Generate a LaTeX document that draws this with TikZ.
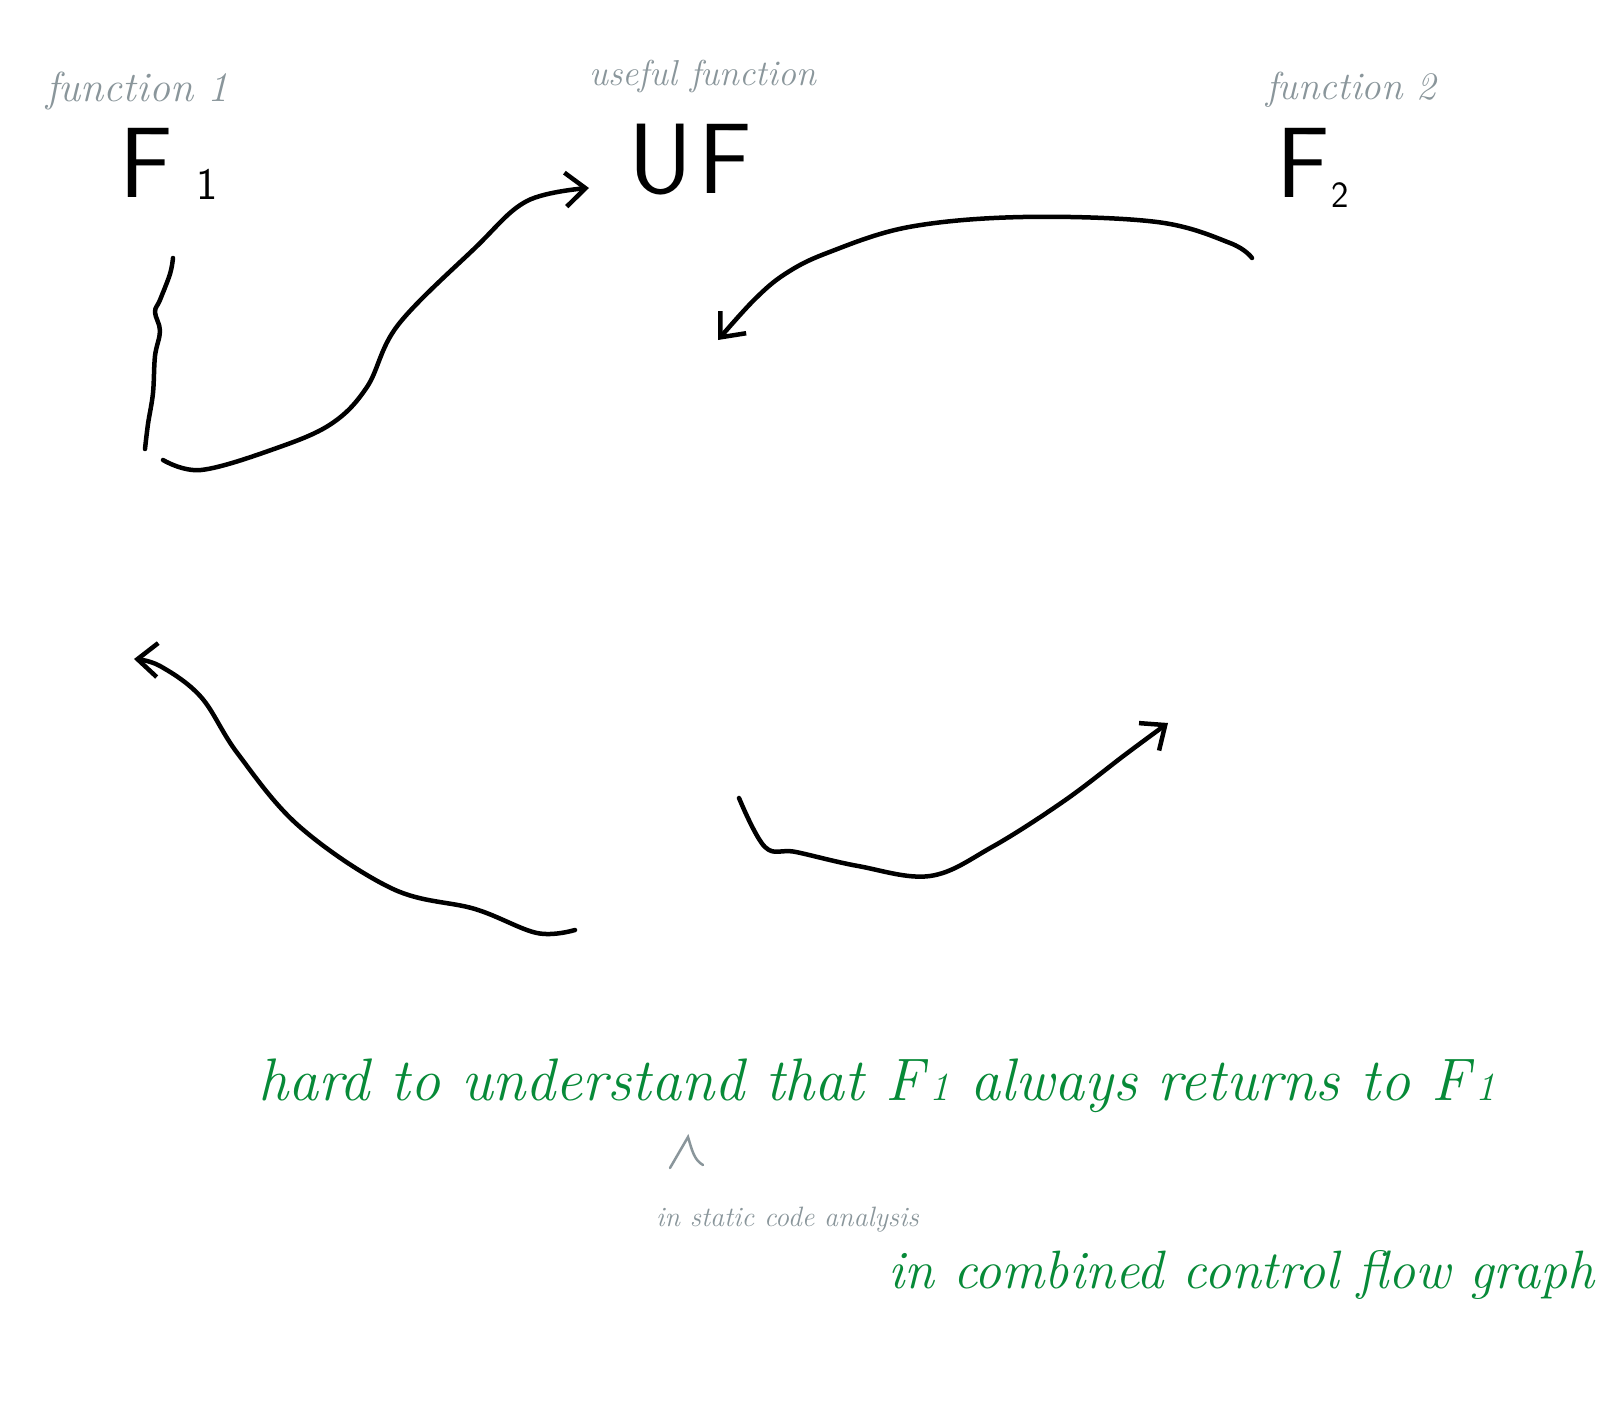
\documentclass[tikz,border=0pt]{standalone}
\usetikzlibrary{arrows.meta}
\definecolor{pen}{HTML}{000000}
\definecolor{note}{HTML}{8A969B}
\definecolor{ink}{HTML}{078A38}
\newcommand{\smallone}{\hspace{6pt}{\fontsize{40}{40}\selectfont 1}}
\tikzset{
  stroke/.style={draw=pen, line width=4.5pt, line cap=round, line join=round},
  barb/.style={-{Straight Barb[length=20pt,width=34pt,line width=4.5pt]}},
  notelabel/.style={text=note, font=\fontsize{42}{44}\selectfont\itshape, inner sep=0pt, anchor=base west},
  fname/.style={text=pen, font=\fontsize{100}{100}\selectfont\sffamily, inner sep=0pt, anchor=base west},
  greentext/.style={text=ink, font=\fontsize{60}{64}\selectfont\itshape, inner sep=0pt, anchor=base west},
}
\begin{document}
\begin{tikzpicture}[x=1pt,y=-1pt]
\path[use as bounding box, fill=white] (0,0) rectangle (1620,1407);

% labels
\node[notelabel] (lab1) at (46,102) {function 1};
\node[notelabel, font=\fontsize{36}{38}\selectfont\itshape] (labuf) at (589,86) {useful function};
\node[notelabel, font=\fontsize{39}{41}\selectfont\itshape] (lab2) at (1266,100) {function 2};

% function names
\node[fname] (F1) at (119,198) {F\hspace{24pt}\raisebox{-2pt}{\fontsize{45}{45}\selectfont 1}};
\node[fname] (UF) at (628,194) {U\hspace{6pt}F};
\node[fname] (F2) at (1276,198) {F\hspace{2pt}\raisebox{-10pt}{\fontsize{37}{37}\selectfont 2}};

% connectors
\coordinate (s1) at (173,258);
\coordinate (e1) at (145,449);
\draw[stroke] plot[smooth, tension=0.6] coordinates {(s1) (170,274) (160,300) (155,312) (160,331) (155,356) (153,393) (148,424) (e1)};

\coordinate (s2) at (163,460);
\coordinate (e2) at (589,188);
\draw[stroke, barb] plot[smooth, tension=0.6] coordinates {(s2) (201,470) (274,449) (331,424) (367,387) (398,325) (475,248) (527,201) (e2)};

\coordinate (s3) at (1252,258);
\coordinate (e3) at (718,340);
\draw[stroke, barb] plot[smooth, tension=0.6] coordinates {(s3) (1230,243) (1157,222) (1023,217) (909,227) (827,253) (785,274) (754,300) (e3)};

\coordinate (s4) at (575,930);
\coordinate (e4) at (134,659);
\draw[stroke, barb] plot[smooth, tension=0.6] coordinates {(s4) (537,933) (475,909) (393,889) (300,827) (238,754) (201,697) (160,666) (e4)};

\coordinate (s5) at (739,798);
\coordinate (e5) at (1168,723);
\draw[stroke, barb] plot[smooth, tension=0.6] coordinates {(s5) (765,847) (796,852) (858,866) (930,876) (992,847) (1064,801) (1126,754) (e5)};

% bottom notes
\node[greentext] (t1) at (258,1100) {hard to understand that F\smallone{} always returns to F\smallone};
\draw[draw=note, line width=2.5pt, line cap=round] (670,1168) -- (688,1137) .. controls (692,1150) and (694,1160) .. (703,1165);
\node[notelabel, font=\fontsize{28}{30}\selectfont\itshape] (t2) at (656,1226) {in static code analysis};
\node[greentext, font=\fontsize{54}{58}\selectfont\itshape] (t3) at (888,1288) {in combined control flow graph};
\end{tikzpicture}
\end{document}
